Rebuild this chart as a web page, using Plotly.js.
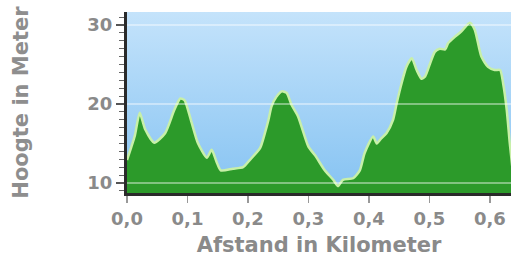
<!DOCTYPE html>
<html><head><meta charset="utf-8">
<script src="https://cdn.plot.ly/plotly-3.0.1.min.js"></script>
<style>html,body{margin:0;padding:0;background:#fff}#c{width:511px;height:264px}</style>
</head><body><div id="c"></div>
<script>
const afstandKm = [0, 0.006, 0.013, 0.021, 0.030, 0.045, 0.063, 0.078, 0.088, 0.095, 0.107, 0.117, 0.132, 0.140, 0.148, 0.155, 0.175, 0.192, 0.203, 0.220, 0.228, 0.234, 0.239, 0.247, 0.256, 0.264, 0.272, 0.283, 0.300, 0.311, 0.327, 0.341, 0.349, 0.357, 0.374, 0.385, 0.393, 0.407, 0.413, 0.420, 0.429, 0.440, 0.446, 0.454, 0.462, 0.471, 0.479, 0.487, 0.493, 0.501, 0.509, 0.517, 0.526, 0.531, 0.542, 0.553, 0.567, 0.575, 0.586, 0.597, 0.608, 0.617, 0.622, 0.628, 0.633, 0.640];
const hoogteM = [12.9, 14.3, 16.0, 18.9, 16.8, 15.1, 16.3, 19.2, 20.7, 20.5, 17.6, 15.1, 13.2, 14.2, 12.7, 11.6, 11.8, 12.0, 12.9, 14.4, 16.3, 18.0, 19.7, 20.9, 21.6, 21.4, 19.9, 18.4, 14.6, 13.5, 11.6, 10.4, 9.6, 10.4, 10.6, 11.6, 13.8, 15.9, 15.0, 15.6, 16.3, 18.0, 20.1, 22.6, 24.7, 25.8, 24.3, 23.2, 23.5, 25.1, 26.6, 27.0, 26.9, 27.7, 28.5, 29.2, 30.3, 29.4, 26.0, 24.7, 24.3, 24.3, 22.6, 19.2, 15.0, 10.0];
const yTicks = [10, 20, 30];
const xTicks = [0, 0.1, 0.2, 0.3, 0.4, 0.5, 0.6];

const grad = 'data:image/svg+xml;utf8,' + encodeURIComponent(
 '<svg xmlns="http://www.w3.org/2000/svg" width="100" height="100" preserveAspectRatio="none">' +
 '<defs><linearGradient id="g" x1="0" y1="0" x2="0" y2="1">' +
 '<stop offset="0" stop-color="#c4e3fb"/><stop offset="1" stop-color="#86c3f2"/></linearGradient></defs>' +
 '<rect width="100" height="100" fill="url(#g)"/></svg>');

const trace = {
  x: afstandKm, y: hoogteM, type: 'scatter', mode: 'lines',
  line: {color: '#c8f0a8', width: 2.5, shape: 'spline', smoothing: 0.6},
  fill: 'tozeroy', fillcolor: '#2c9a2a', hoverinfo: 'skip'
};

const font = 'DejaVu Sans, Verdana, sans-serif';
const layout = {
  width: 511, height: 264,
  margin: {l: 127, r: 0, t: 12, b: 71},
  paper_bgcolor: '#ffffff', plot_bgcolor: 'rgba(0,0,0,0)',
  separators: ',.',
  showlegend: false,
  images: [{source: grad, xref: 'paper', yref: 'paper', x: 0, y: 1, sizex: 1, sizey: 1,
            sizing: 'stretch', layer: 'below', xanchor: 'left', yanchor: 'top'}],
  shapes: yTicks.map(v => ({type: 'line', xref: 'paper', x0: 0, x1: 1, yref: 'y', y0: v, y1: v,
            line: {color: 'rgba(255,255,255,0.55)', width: 1.5}, layer: 'above'})),
  xaxis: {
    range: [0, 0.635], tickvals: xTicks, tickformat: '.1f',
    showgrid: false, zeroline: false,
    showline: true, linecolor: '#2a2a2a', linewidth: 3,
    ticks: 'outside', ticklen: 7, tickcolor: '#999', tickwidth: 1.5,
    tickfont: {family: font, size: 18, color: '#8a8a8a', weight: 'bold'},
    title: {text: 'Afstand in Kilometer', standoff: 10,
            font: {family: font, size: 21, color: '#8a8a8a', weight: 'bold'}},
    layer: 'above traces', fixedrange: true
  },
  yaxis: {
    range: [8.73, 31.65], tickvals: yTicks,
    showgrid: false, zeroline: false,
    showline: true, linecolor: '#2a2a2a', linewidth: 3,
    ticks: 'outside', ticklen: 8, tickcolor: '#555', tickwidth: 1.5,
    minor: {dtick: 1, ticks: 'outside', ticklen: 5, tickcolor: '#666', tickwidth: 1},
    tickfont: {family: font, size: 18, color: '#8a8a8a', weight: 'bold'},
    title: {text: 'Hoogte in Meter', standoff: 53,
            font: {family: font, size: 21, color: '#8e8e8e', weight: 'bold'}},
    layer: 'above traces', fixedrange: true
  }
};
Plotly.newPlot('c', [trace], layout, {staticPlot: true, displayModeBar: false});
</script></body></html>
